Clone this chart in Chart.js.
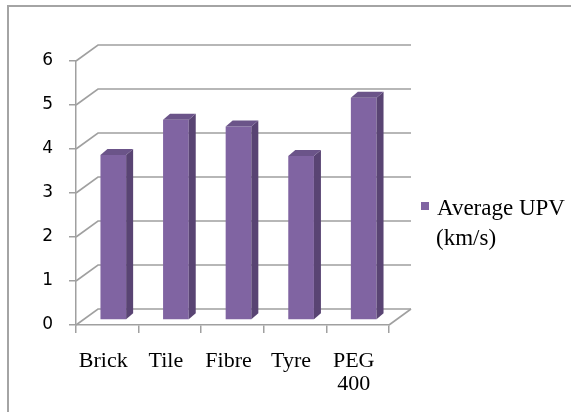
<!DOCTYPE html>
<html>
<head>
<meta charset="utf-8">
<script src="https://cdn.jsdelivr.net/npm/chart.js@4/dist/chart.umd.min.js"></script>
<style>
  html, body { margin: 0; padding: 0; background: #fff; }
  #wrap { width: 571px; height: 412px; }
</style>
</head>
<body>
<div id="wrap"><canvas id="c" width="571" height="412"></canvas></div>
<script>
// Data
const categories = ['Brick', 'Tile', 'Fibre', 'Tyre', ['PEG', '400']];
const upvValues = [3.75, 4.55, 4.4, 3.73, 5.05];
const seriesName = ['Average UPV', '(km/s)'];
const yTicks = [0, 1, 2, 3, 4, 5, 6];

// Styling
const BAR_FRONT = '#8064A2';
const BAR_SIDE = '#594473';
const BAR_TOP = '#6B5489';
const GRID = '#A0A0A0';
const WALL = { dx: 22, dy: -16 };      // back wall offset from the front plane
const BAR_PLANE = { dx: 6, dy: -5 };   // plane holding the front faces of the columns
const BAR_DEPTH = { dx: 7, dy: -6 };   // depth of each column

const box3d = {
  id: 'box3d',
  beforeDraw(chart) {
    const ctx = chart.ctx;
    ctx.save();
    ctx.fillStyle = '#fff';
    ctx.fillRect(0, 0, chart.width, chart.height);
    ctx.strokeStyle = '#A4A4A4';
    ctx.lineWidth = 2;
    ctx.beginPath();
    ctx.moveTo(8, chart.height + 2);
    ctx.lineTo(8, 6);
    ctx.lineTo(chart.width + 2, 6);
    ctx.stroke();
    ctx.restore();
  },
  beforeDatasetsDraw(chart) {
    const { ctx, chartArea: a, scales: { y } } = chart;
    ctx.save();
    ctx.strokeStyle = GRID;
    ctx.lineWidth = 1.6;
    // side wall diagonals + back wall gridlines
    yTicks.forEach(v => {
      const py = y.getPixelForValue(v);
      ctx.beginPath();
      ctx.moveTo(a.left, py);
      ctx.lineTo(a.left + WALL.dx, py + WALL.dy);
      ctx.lineTo(a.right + WALL.dx, py + WALL.dy);
      ctx.stroke();
    });
    // floor right edge
    const p0 = y.getPixelForValue(0);
    ctx.beginPath();
    ctx.moveTo(a.right, p0);
    ctx.lineTo(a.right + WALL.dx, p0 + WALL.dy);
    ctx.stroke();
    ctx.restore();
    // columns are drawn on a plane set back from the front edge
    ctx.save();
    ctx.translate(BAR_PLANE.dx, BAR_PLANE.dy);
  },
  afterDatasetsDraw(chart) {
    const ctx = chart.ctx;
    chart.getDatasetMeta(0).data.forEach(bar => {
      const { x, y, base, width } = bar.getProps(['x', 'y', 'base', 'width'], true);
      const l = x - width / 2, r = x + width / 2;
      ctx.fillStyle = BAR_SIDE;
      ctx.beginPath();
      ctx.moveTo(r, y);
      ctx.lineTo(r + BAR_DEPTH.dx, y + BAR_DEPTH.dy);
      ctx.lineTo(r + BAR_DEPTH.dx, base + BAR_DEPTH.dy);
      ctx.lineTo(r, base);
      ctx.closePath();
      ctx.fill();
      ctx.fillStyle = BAR_TOP;
      ctx.beginPath();
      ctx.moveTo(l, y);
      ctx.lineTo(l + BAR_DEPTH.dx, y + BAR_DEPTH.dy);
      ctx.lineTo(r + BAR_DEPTH.dx, y + BAR_DEPTH.dy);
      ctx.lineTo(r, y);
      ctx.closePath();
      ctx.fill();
    });
    ctx.restore();
  },
  afterDraw(chart) {
    // legend
    const { ctx, chartArea: a } = chart;
    const lx = a.right + 32;
    ctx.save();
    ctx.fillStyle = BAR_FRONT;
    ctx.fillRect(lx, 202, 8, 8);
    ctx.fillStyle = '#000';
    ctx.font = '23px "Liberation Serif"';
    ctx.textBaseline = 'alphabetic';
    ctx.textAlign = 'left';
    ctx.fillText(seriesName[0], lx + 16, 215);
    ctx.fillText(seriesName[1], lx + 15, 245);
    ctx.restore();
  }
};

new Chart(document.getElementById('c'), {
  type: 'bar',
  data: {
    labels: categories,
    datasets: [{
      label: seriesName.join(' '),
      data: upvValues,
      backgroundColor: BAR_FRONT,
      borderWidth: 0,
      categoryPercentage: 1,
      barPercentage: 0.41,
      clip: false
    }]
  },
  options: {
    responsive: false,
    animation: false,
    devicePixelRatio: 1,
    layout: { padding: { left: 36, right: 182, top: 61, bottom: 7 } },
    plugins: { legend: { display: false }, tooltip: { enabled: false } },
    scales: {
      x: {
        offset: true,
        clip: false,
        grid: { offset: true, drawOnChartArea: false, drawTicks: true, tickLength: 8, color: GRID, lineWidth: 1.5 },
        border: { display: true, color: GRID, width: 1.5 },
        ticks: {
          color: '#000',
          font: { family: '"Liberation Serif"', size: 22, lineHeight: 1.05 },
          padding: 17,
          labelOffset: -4,
          maxRotation: 0,
          autoSkip: false
        },
        afterFit(s) { s.height = 80; }
      },
      y: {
        min: 0,
        max: 6,
        ticks: {
          stepSize: 1,
          color: '#000',
          font: { family: '"DejaVu Sans"', size: 17 },
          padding: 16
        },
        grid: { drawOnChartArea: false, drawTicks: true, tickLength: 7, color: GRID, lineWidth: 1.5 },
        border: { display: true, color: GRID, width: 1.5 },
        afterFit(s) { s.width = 40; }
      }
    }
  },
  plugins: [box3d]
});
</script>
</body>
</html>
